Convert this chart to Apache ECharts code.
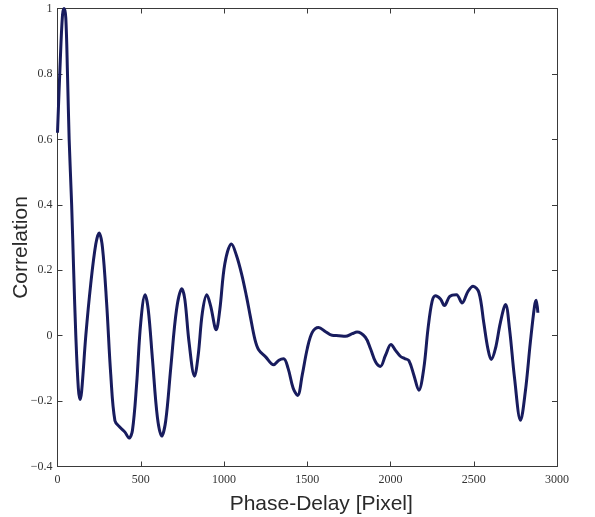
<!DOCTYPE html>
<html>
<head>
<meta charset="utf-8">
<script src="https://cdn.jsdelivr.net/npm/echarts@6/dist/echarts.min.js"></script>
<style>
  html, body { margin: 0; padding: 0; background: #fff; }
  #chart { width: 595px; height: 517px; }
</style>
</head>
<body>
<div id="chart"></div>
<script>
// Phase delay in pixels
const phaseDelay = [
  0, 15, 30, 40, 50, 60, 70, 85, 97, 110, 125, 135, 145, 170, 200, 230, 250, 270, 295, 320,
  345, 375, 405, 430, 450, 475, 500, 526, 545, 570, 600, 626, 650, 680, 715, 747, 765, 790, 823, 845,
  870, 897, 920, 953, 975, 1005, 1045, 1075, 1107, 1135, 1158, 1185, 1208, 1250, 1298, 1330, 1358, 1385, 1415, 1442,
  1470, 1500, 1530, 1568, 1610, 1649, 1690, 1729, 1770, 1799, 1849, 1880, 1910, 1939, 1970, 2003, 2030, 2059, 2085, 2110,
  2140, 2170, 2200, 2225, 2250, 2270, 2300, 2324, 2356, 2396, 2430, 2465, 2496, 2531, 2560, 2585, 2605, 2630, 2660, 2691,
  2715, 2745, 2781, 2810, 2840, 2865, 2875, 2885
];

// Correlation coefficient at each delay
const correlation = [
  0.62, 0.82, 0.98, 1.0, 0.97, 0.80, 0.60, 0.40, 0.20, 0.0, -0.16, -0.195, -0.17, 0.0, 0.16, 0.28, 0.314, 0.27, 0.10, -0.12,
  -0.26, -0.28, -0.295, -0.313, -0.29, -0.15, 0.04, 0.125, 0.08, -0.07, -0.25, -0.307, -0.26, -0.10, 0.08, 0.143, 0.11, -0.02, -0.124, -0.06,
  0.07, 0.125, 0.09, 0.018, 0.08, 0.22, 0.28, 0.245, 0.186, 0.12, 0.059, -0.01, -0.043, -0.065, -0.089, -0.075, -0.071, -0.1, -0.16, -0.183,
  -0.12, -0.04, 0.01, 0.025, 0.012, 0.001, 0.0, -0.002, 0.006, 0.011, -0.005, -0.04, -0.08, -0.094, -0.06, -0.027, -0.045, -0.063, -0.07, -0.076,
  -0.12, -0.167, -0.1, 0.02, 0.105, 0.122, 0.112, 0.092, 0.12, 0.125, 0.1, 0.135, 0.151, 0.132, 0.04, -0.04, -0.073, -0.04, 0.04, 0.095,
  0.02, -0.13, -0.259, -0.17, -0.02, 0.09, 0.108, 0.07
];

const xTicks = [0, 500, 1000, 1500, 2000, 2500, 3000];
const yTicks = [-0.4, -0.2, 0, 0.2, 0.4, 0.6, 0.8, 1];

const points = phaseDelay.map((x, i) => [x, correlation[i]]);

const axisColor = '#3a3a3a';
const tickFont = { fontFamily: 'Liberation Serif', fontSize: 12, color: '#333' };
const nameFont = { fontFamily: 'Liberation Sans', fontSize: 21, color: '#2a2a2a' };

const fmtX = v => String(Math.round(v));
const fmtY = v => {
  const r = Math.round(v * 10) / 10;
  if (r === 0) return '0';
  return (r < 0 ? '\u2212' : '') + String(Math.abs(r));
};

const frameLine = { show: true, onZero: false, lineStyle: { color: axisColor, width: 1 } };
const frameTick = { show: true, inside: true, length: 5, lineStyle: { color: axisColor } };

const chart = echarts.init(document.getElementById('chart'));
chart.setOption({
  animation: false,
  backgroundColor: '#fff',
  grid: { left: 57.5, right: 38, top: 8.5, bottom: 50.5, containLabel: false, outerBoundsMode: 'none' },
  xAxis: [
    {
      type: 'value', position: 'bottom',
      min: xTicks[0], max: xTicks[xTicks.length - 1], interval: 500,
      name: 'Phase-Delay [Pixel]', nameLocation: 'middle', nameGap: 27, nameMoveOverlap: false,
      nameTextStyle: Object.assign({ padding: [0, 0, 0, 28] }, nameFont),
      axisLine: frameLine, axisTick: frameTick,
      axisLabel: Object.assign({ margin: 7, formatter: fmtX }, tickFont),
      splitLine: { show: false }
    },
    {
      type: 'value', position: 'top',
      min: xTicks[0], max: xTicks[xTicks.length - 1], interval: 500,
      axisLine: frameLine, axisTick: frameTick,
      axisLabel: { show: false },
      splitLine: { show: false }
    }
  ],
  yAxis: [
    {
      type: 'value', position: 'left',
      min: yTicks[0], max: yTicks[yTicks.length - 1], interval: 0.2,
      name: 'Correlation', nameLocation: 'middle', nameGap: 26, nameMoveOverlap: false,
      nameTextStyle: Object.assign({ padding: [0, 20, 0, 0] }, nameFont),
      axisLine: frameLine, axisTick: frameTick,
      axisLabel: Object.assign({ margin: 5, formatter: fmtY }, tickFont),
      splitLine: { show: false }
    },
    {
      type: 'value', position: 'right',
      min: yTicks[0], max: yTicks[yTicks.length - 1], interval: 0.2,
      axisLine: frameLine, axisTick: frameTick,
      axisLabel: { show: false },
      splitLine: { show: false }
    }
  ],
  series: [
    {
      type: 'line',
      xAxisIndex: 0,
      yAxisIndex: 0,
      data: points,
      smooth: 0.35,
      symbol: 'none',
      lineStyle: { color: '#181c5e', width: 3 },
      clip: true
    }
  ]
});
</script>
</body>
</html>
